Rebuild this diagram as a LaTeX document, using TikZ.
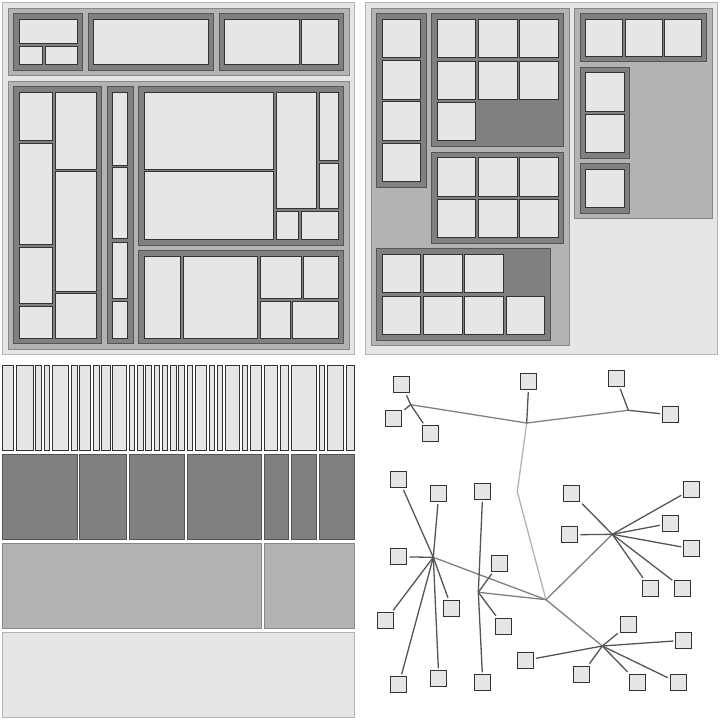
\documentclass[tikz,border=0pt]{standalone}
\usepackage{tikz}
\definecolor{leaffill}{HTML}{E6E6E6}
\definecolor{leafline}{HTML}{333333}
\definecolor{midfill}{HTML}{B3B3B3}
\definecolor{midline}{HTML}{888888}
\definecolor{darkfill}{HTML}{808080}
\definecolor{darkline}{HTML}{555555}
\tikzset{
outer_box/.style={fill=leaffill, draw=midfill, line width=1pt},
mid_box/.style={fill=midfill, draw=midline, line width=1pt},
dark_box/.style={fill=darkfill, draw=darkline, line width=1pt},
leaf_box/.style={fill=leaffill, draw=leafline, line width=1pt},
leaf_node/.style={rectangle, draw=leafline, fill=leaffill, line width=1pt, minimum size=16pt, inner sep=0pt, outer sep=2.5pt},
root_edge/.style={draw=midfill, line width=1.3pt},
group_edge/.style={draw=darkfill, line width=1.3pt},
leaf_edge/.style={draw=darkline, line width=1.3pt}
}

\begin{document}
\begin{tikzpicture}[x=1pt, y=-1pt]
    \useasboundingbox[fill=white] (0,0) rectangle (720,720);

    % squarified treemap
    \draw[outer_box] (2.7,2.7) rectangle (354.3,354.3);
    \draw[mid_box] (8.3,8.3) rectangle (349.3,75.7);
    \draw[dark_box] (13.3,13.3) rectangle (82.3,70.7);
    \draw[leaf_box] (19.3,19.3) rectangle (77.7,43.3);
    \draw[leaf_box] (19.3,46.3) rectangle (42.7,64.3);
    \draw[leaf_box] (45.3,46.3) rectangle (77.7,64.3);
    \draw[dark_box] (88.3,13.3) rectangle (213.3,70.7);
    \draw[leaf_box] (93.3,19.3) rectangle (208.7,64.3);
    \draw[dark_box] (219.3,13.3) rectangle (343.7,70.7);
    \draw[leaf_box] (224.3,19.3) rectangle (299.3,64.3);
    \draw[leaf_box] (301.3,19.3) rectangle (338.7,64.3);
    \draw[mid_box] (8.3,81.3) rectangle (349.3,349.3);
    \draw[dark_box] (13.3,86.3) rectangle (101.3,343.3);
    \foreach \ya/\yb in {92.3/140.3, 143.3/244.3, 247.3/303.3, 306.3/338.3}
        \draw[leaf_box] (19.3,\ya) rectangle (52.7,\yb);
    \foreach \ya/\yb in {92.3/169.3, 171.3/291.3, 293.3/338.3}
        \draw[leaf_box] (55.3,\ya) rectangle (96.7,\yb);
    \draw[dark_box] (107.3,86.3) rectangle (133.3,343.3);
    \foreach \ya/\yb in {92.3/165.3, 167.3/238.3, 242.3/298.3, 301.3/338.3}
        \draw[leaf_box] (112.3,\ya) rectangle (127.3,\yb);
    \draw[dark_box] (138.3,86.3) rectangle (343.7,245.3);
    \draw[leaf_box] (144.3,92.3) rectangle (273.3,169.3);
    \draw[leaf_box] (144.3,171.3) rectangle (273.3,239.3);
    \draw[leaf_box] (276.3,92.3) rectangle (316.3,208.3);
    \draw[leaf_box] (319.3,92.3) rectangle (338.7,160.3);
    \draw[leaf_box] (319.3,163.3) rectangle (338.7,208.3);
    \draw[leaf_box] (276.3,211.3) rectangle (298.3,239.3);
    \draw[leaf_box] (301.3,211.3) rectangle (338.7,239.3);
    \draw[dark_box] (138.3,250.3) rectangle (343.7,343.3);
    \draw[leaf_box] (144.3,256.3) rectangle (180.3,338.3);
    \draw[leaf_box] (183.3,256.3) rectangle (257.3,338.3);
    \draw[leaf_box] (260.3,256.3) rectangle (301.3,298.3);
    \draw[leaf_box] (303.3,256.3) rectangle (338.7,298.3);
    \draw[leaf_box] (260.3,301.3) rectangle (290.3,338.3);
    \draw[leaf_box] (292.3,301.3) rectangle (338.7,338.3);

    % packed treemap
    \draw[outer_box] (365.3,2.7) rectangle (717.3,354.3);
    \draw[mid_box] (371.3,8.3) rectangle (569.3,345.3);
    \draw[dark_box] (376.3,13.3) rectangle (426.3,187.3);
    \foreach \ya/\yb in {19.3/57.3, 60.3/99.3, 101.3/140.3, 143.3/181.3}
        \draw[leaf_box] (382.3,\ya) rectangle (420.7,\yb);
    \draw[dark_box] (431.3,13.3) rectangle (563.3,146.3);
    \foreach \ya/\yb in {19.3/57.3, 61.3/99.3}
        \foreach \xa/\xb in {437.3/475.3, 478.3/517.3, 519.3/558.3}
            \draw[leaf_box] (\xa,\ya) rectangle (\xb,\yb);
    \draw[leaf_box] (437.3,102.3) rectangle (475.3,140.3);
    \draw[dark_box] (431.3,152.3) rectangle (563.3,243.3);
    \foreach \ya/\yb in {157.3/196.3, 199.3/237.3}
        \foreach \xa/\xb in {437.3/475.3, 478.3/517.3, 519.3/558.3}
            \draw[leaf_box] (\xa,\ya) rectangle (\xb,\yb);
    \draw[dark_box] (376.3,248.3) rectangle (550.3,340.3);
    \foreach \xa/\xb in {382.3/420.7, 423.3/462.3, 464.3/503.3}
        \draw[leaf_box] (\xa,254.3) rectangle (\xb,292.3);
    \foreach \xa/\xb in {382.3/420.7, 423.3/462.3, 464.3/503.3, 506.3/544.3}
        \draw[leaf_box] (\xa,296.3) rectangle (\xb,334.3);
    \draw[mid_box] (574.3,8.3) rectangle (712.3,218.3);
    \draw[dark_box] (580.3,13.3) rectangle (706.3,61.3);
    \foreach \xa/\xb in {585.3/622.3, 625.3/662.3, 664.3/701.3}
        \draw[leaf_box] (\xa,19.3) rectangle (\xb,56.3);
    \draw[dark_box] (580.3,67.3) rectangle (629.3,158.3);
    \draw[leaf_box] (585.3,72.3) rectangle (624.3,111.3);
    \draw[leaf_box] (585.3,114.3) rectangle (624.3,152.3);
    \draw[dark_box] (580.3,163.3) rectangle (629.3,213.3);
    \draw[leaf_box] (585.3,169.3) rectangle (624.3,207.3);

    % icicle
    \foreach \xa/\xb in {2.7/13.7, 16.3/33.7, 35.3/41.7, 44.3/49.7, 52.3/68.7, 71.3/77.7,
        79.3/90.3, 93.3/99.7, 101.3/110.7, 112.3/126.7, 129.3/134.7, 137.3/143.3,
        145.3/151.7, 154.3/159.7, 162.3/167.7, 170.3/176.3, 178.3/184.3, 187.3/192.7,
        195.3/206.7, 209.3/214.7, 217.3/222.7, 225.3/239.3, 242.3/247.7, 250.3/261.7,
        264.3/277.3, 280.3/288.3, 291.3/316.7, 319.3/324.7, 327.3/343.3, 346.3/354.3}
        \draw[leaf_box] (\xa,365.3) rectangle (\xb,450.3);
    \foreach \xa/\xb in {2.7/77.7, 79.3/126.7, 129.3/184.7, 187.3/261.7,
        264.3/288.7, 291.3/316.7, 319.3/354.3}
        \draw[dark_box] (\xa,454.3) rectangle (\xb,539.3);
    \draw[mid_box] (2.7,543.3) rectangle (261.7,628.3);
    \draw[mid_box] (264.3,543.3) rectangle (354.3,628.3);
    \draw[outer_box] (2.7,632.3) rectangle (354.3,717.3);

    % node-link tree
    \coordinate (root) at (517.3,491.7);
    \coordinate (top) at (526.7,423);
    \coordinate (bottom) at (546,599.7);
    \coordinate (grp_a) at (410.7,404.7);
    \coordinate (grp_c) at (628.3,410.3);
    \coordinate (grp_d) at (433.3,557.3);
    \coordinate (grp_e) at (478.3,592.3);
    \coordinate (grp_f) at (612.3,534.3);
    \coordinate (grp_g) at (602.3,646);

    \node[leaf_node] (a1) at (401.8,384.8) {};
    \node[leaf_node] (a2) at (393.8,418.3) {};
    \node[leaf_node] (a3) at (430.3,433.8) {};
    \node[leaf_node] (b1) at (528.8,381.3) {};
    \node[leaf_node] (c1) at (616.3,378.3) {};
    \node[leaf_node] (c2) at (670.8,414.8) {};

    \node[leaf_node] (d1) at (398.8,479.3) {};
    \node[leaf_node] (d2) at (438.8,493.3) {};
    \node[leaf_node] (d3) at (398.8,556.8) {};
    \node[leaf_node] (d4) at (451.8,608.3) {};
    \node[leaf_node] (d5) at (385.3,620.8) {};
    \node[leaf_node] (d6) at (398.8,684.8) {};
    \node[leaf_node] (d7) at (438.8,678.8) {};

    \node[leaf_node] (e1) at (482.8,491.3) {};
    \node[leaf_node] (e2) at (499.3,563.3) {};
    \node[leaf_node] (e3) at (503.8,626.3) {};
    \node[leaf_node] (e4) at (482.8,682.8) {};

    \node[leaf_node] (f1) at (571.8,493.3) {};
    \node[leaf_node] (f2) at (569.8,534.8) {};
    \node[leaf_node] (f3) at (691.8,489.3) {};
    \node[leaf_node] (f4) at (670.3,523.3) {};
    \node[leaf_node] (f5) at (691.8,548.8) {};
    \node[leaf_node] (f6) at (650.3,588.3) {};
    \node[leaf_node] (f7) at (682.8,588.3) {};

    \node[leaf_node] (g1) at (628.3,624.8) {};
    \node[leaf_node] (g2) at (683.8,640.3) {};
    \node[leaf_node] (g3) at (525.3,660.3) {};
    \node[leaf_node] (g4) at (581.8,674.3) {};
    \node[leaf_node] (g5) at (637.8,682.3) {};
    \node[leaf_node] (g6) at (678.3,682.8) {};

    \draw[root_edge] (top) -- (root) -- (bottom);
    \draw[group_edge] (grp_a) -- (top) -- (grp_c);
    \foreach \g in {grp_d, grp_e, grp_f, grp_g}
        \draw[group_edge] (bottom) -- (\g);
    \foreach \l in {a1, a2, a3}
        \draw[leaf_edge] (grp_a) -- (\l);
    \draw[leaf_edge] (top) -- (b1);
    \foreach \l in {c1, c2}
        \draw[leaf_edge] (grp_c) -- (\l);
    \foreach \l in {d1, d2, d3, d4, d5, d6, d7}
        \draw[leaf_edge] (grp_d) -- (\l);
    \foreach \l in {e1, e2, e3, e4}
        \draw[leaf_edge] (grp_e) -- (\l);
    \foreach \l in {f1, f2, f3, f4, f5, f6, f7}
        \draw[leaf_edge] (grp_f) -- (\l);
    \foreach \l in {g1, g2, g3, g4, g5, g6}
        \draw[leaf_edge] (grp_g) -- (\l);
\end{tikzpicture}
\end{document}
